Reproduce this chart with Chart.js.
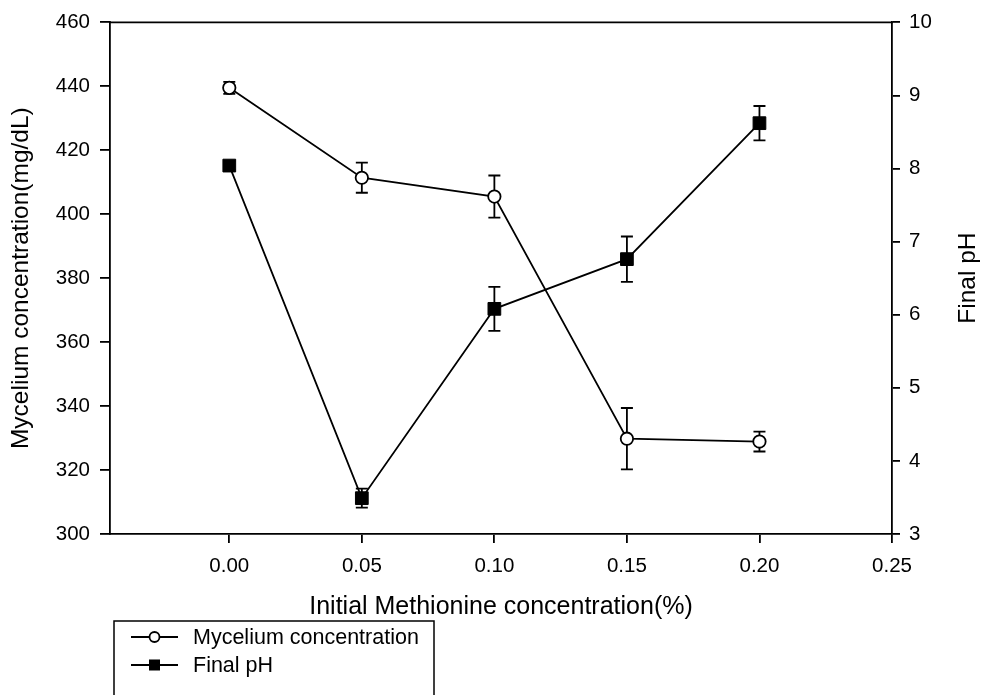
<!DOCTYPE html>
<html>
<head>
<meta charset="utf-8">
<script src="https://cdn.jsdelivr.net/npm/chart.js@4.4.1/dist/chart.umd.min.js"></script>
<style>
  html, body { margin: 0; padding: 0; background: #fff; }
  #wrap { width: 983px; height: 695px; position: relative; }
</style>
</head>
<body>
<div id="wrap"><canvas id="c" width="983" height="695"></canvas></div>
<script>
// Initial methionine concentration (%)
const methionine = [0.00, 0.05, 0.10, 0.15, 0.20];
// Mycelium concentration (mg/dL) and its error
const mycelium = [439.5, 411.4, 405.5, 329.8, 328.9];
const myceliumErr = [1.9, 4.7, 6.6, 9.6, 3.1];
// Final pH and its error
const finalPH = [8.04, 3.49, 6.08, 6.76, 8.62];
const finalPHErr = [0.06, 0.13, 0.30, 0.31, 0.235];

// Tick labels
const xTicks = [0.00, 0.05, 0.10, 0.15, 0.20, 0.25];
const leftTicks = [300, 320, 340, 360, 380, 400, 420, 440, 460];
const rightTicks = [3, 4, 5, 6, 7, 8, 9, 10];

const FONT = "'Liberation Sans', Arial, Helvetica, sans-serif";
const LINE = 1.8;

const toPoints = (ys) => methionine.map((x, i) => ({ x: x, y: ys[i] }));

// Vertical error bars with caps, drawn beneath the markers
const errorBars = {
  id: 'errorBars',
  beforeDatasetsDraw(chart) {
    const ctx = chart.ctx;
    const xs = chart.scales.x;
    const sets = [
      { scale: chart.scales.yL, vals: mycelium, errs: myceliumErr },
      { scale: chart.scales.yR, vals: finalPH, errs: finalPHErr }
    ];
    ctx.save();
    ctx.strokeStyle = '#000';
    ctx.lineWidth = LINE;
    sets.forEach(s => {
      s.vals.forEach((v, i) => {
        const px = xs.getPixelForValue(methionine[i]);
        const top = s.scale.getPixelForValue(v + s.errs[i]);
        const bot = s.scale.getPixelForValue(v - s.errs[i]);
        ctx.beginPath();
        ctx.moveTo(px, top); ctx.lineTo(px, bot);
        ctx.moveTo(px - 6, top); ctx.lineTo(px + 6, top);
        ctx.moveTo(px - 6, bot); ctx.lineTo(px + 6, bot);
        ctx.stroke();
      });
    });
    ctx.restore();
  }
};

// Frame top line, axis titles and the legend box
const decorations = {
  id: 'decorations',
  afterDraw(chart) {
    const ctx = chart.ctx;
    const a = chart.chartArea;
    ctx.save();
    ctx.strokeStyle = '#000';
    ctx.lineWidth = LINE;
    ctx.beginPath();
    ctx.moveTo(a.left - 0.9, a.top);
    ctx.lineTo(a.right + 0.9, a.top);
    ctx.stroke();

    ctx.fillStyle = '#000';
    ctx.textAlign = 'center';
    ctx.textBaseline = 'middle';
    // x title
    ctx.font = '25px ' + FONT;
    ctx.fillText('Initial Methionine concentration(%)', (a.left + a.right) / 2, 607);
    // left y title
    ctx.font = '24.5px ' + FONT;
    ctx.save();
    ctx.translate(21, (a.top + a.bottom) / 2);
    ctx.rotate(-Math.PI / 2);
    ctx.fillText('Mycelium concentration(mg/dL)', 0, 0);
    ctx.restore();
    // right y title
    ctx.save();
    ctx.translate(968, (a.top + a.bottom) / 2);
    ctx.rotate(-Math.PI / 2);
    ctx.fillText('Final pH', 0, 0);
    ctx.restore();

    // legend
    ctx.lineWidth = 1.5;
    ctx.strokeRect(114, 621, 320, 120);
    const rows = [
      { y: 637, label: 'Mycelium concentration', style: 'circle' },
      { y: 665, label: 'Final pH', style: 'square' }
    ];
    ctx.font = '21.5px ' + FONT;
    ctx.textAlign = 'left';
    rows.forEach(r => {
      ctx.lineWidth = LINE;
      ctx.beginPath();
      ctx.moveTo(131, r.y); ctx.lineTo(178, r.y);
      ctx.stroke();
      if (r.style === 'circle') {
        ctx.beginPath();
        ctx.arc(154.5, r.y, 5, 0, Math.PI * 2);
        ctx.fillStyle = '#fff';
        ctx.fill();
        ctx.stroke();
      } else {
        ctx.fillStyle = '#000';
        ctx.fillRect(149, r.y - 5.5, 11, 11);
      }
      ctx.fillStyle = '#000';
      ctx.fillText(r.label, 193, r.y + 1);
    });
    ctx.restore();
  }
};

const setTicks = (vals) => (scale) => { scale.ticks = vals.map(v => ({ value: v })); };

new Chart(document.getElementById('c'), {
  type: 'line',
  data: {
    datasets: [
      {
        label: 'Mycelium concentration',
        data: toPoints(mycelium),
        yAxisID: 'yL',
        borderColor: '#000',
        borderWidth: LINE,
        pointStyle: 'circle',
        pointRadius: 6.2,
        pointBorderWidth: LINE,
        pointBackgroundColor: '#fff',
        pointBorderColor: '#000',
        tension: 0,
        fill: false
      },
      {
        label: 'Final pH',
        data: toPoints(finalPH),
        yAxisID: 'yR',
        borderColor: '#000',
        borderWidth: LINE,
        pointStyle: 'rect',
        pointRadius: 9,
        pointBorderWidth: 1,
        pointBackgroundColor: '#000',
        pointBorderColor: '#000',
        tension: 0,
        fill: false
      }
    ]
  },
  options: {
    responsive: false,
    animation: false,
    devicePixelRatio: 1,
    layout: { padding: { top: 20, left: 0, right: 0, bottom: 0 } },
    plugins: { legend: { display: false }, tooltip: { enabled: false } },
    scales: {
      x: {
        type: 'linear',
        min: -0.045,
        max: 0.25,
        afterBuildTicks: setTicks(xTicks),
        afterFit: (s) => { s.height = 161; },
        border: { display: true, color: '#000', width: LINE },
        grid: { display: true, drawOnChartArea: false, drawTicks: true, tickLength: 9, color: '#000', lineWidth: LINE },
        ticks: {
          color: '#000', font: { family: FONT, size: 20.5 }, padding: 11,
          maxRotation: 0, autoSkip: false,
          callback: (v) => Number(v).toFixed(2)
        }
      },
      yL: {
        type: 'linear',
        position: 'left',
        min: 300,
        max: 460,
        afterBuildTicks: setTicks(leftTicks),
        afterFit: (s) => { s.width = 110; },
        border: { display: true, color: '#000', width: LINE },
        grid: { display: true, drawOnChartArea: false, drawTicks: true, tickLength: 10, color: '#000', lineWidth: LINE },
        ticks: { color: '#000', font: { family: FONT, size: 20.5 }, padding: 10, autoSkip: false }
      },
      yR: {
        type: 'linear',
        position: 'right',
        min: 3,
        max: 10,
        afterBuildTicks: setTicks(rightTicks),
        afterFit: (s) => { s.width = 91; },
        border: { display: true, color: '#000', width: LINE },
        grid: { display: true, drawOnChartArea: false, drawTicks: true, tickLength: 8, color: '#000', lineWidth: LINE },
        ticks: { color: '#000', font: { family: FONT, size: 20.5 }, padding: 9, autoSkip: false }
      }
    }
  },
  plugins: [errorBars, decorations]
});
</script>
</body>
</html>
